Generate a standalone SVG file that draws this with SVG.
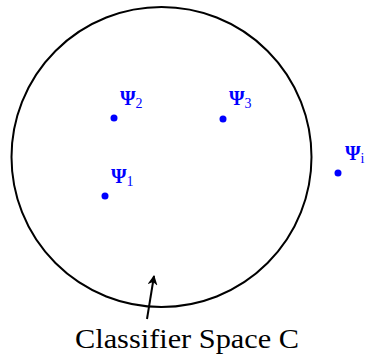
<svg xmlns="http://www.w3.org/2000/svg" width="365" height="358" viewBox="0 0 365 358">
<style>
.pt{fill:#0000ff}
.lab{font-family:"Liberation Serif",serif;font-size:20px;font-weight:bold;fill:#0000ff}
.sub{font-size:14px;font-weight:normal}
.cap{font-family:"Liberation Serif",serif;font-size:27px;fill:#000}
</style>
<defs>
<marker id="ah" viewBox="0 0 10 10" refX="9" refY="5" markerWidth="10" markerHeight="10" markerUnits="userSpaceOnUse" orient="auto">
<path d="M0,0 L10,5 L0,10 L3,5 Z" fill="#000"/>
</marker>
</defs>
<g id="space">
<circle cx="161.5" cy="157" r="150" fill="none" stroke="#000" stroke-width="2"/>
</g>
<g id="psi2"><circle class="pt" cx="114" cy="118" r="3.5"/><text class="lab" x="120" y="105">Ψ<tspan class="sub" dy="3">2</tspan></text></g>
<g id="psi3"><circle class="pt" cx="223" cy="119" r="3.5"/><text class="lab" x="229" y="105">Ψ<tspan class="sub" dy="3">3</tspan></text></g>
<g id="psi1"><circle class="pt" cx="105" cy="196" r="3.5"/><text class="lab" x="111" y="183">Ψ<tspan class="sub" dy="3">1</tspan></text></g>
<g id="psi4"><circle class="pt" cx="338" cy="173" r="3.5"/><text class="lab" x="345" y="160">Ψ<tspan class="sub" dy="3">i</tspan></text></g>
<g id="connectors">
<line x1="147" y1="319" x2="154" y2="276" stroke="#000" stroke-width="2" marker-end="url(#ah)"/>
</g>
<g id="label"><text class="cap" x="75" y="348" textLength="224" lengthAdjust="spacingAndGlyphs">Classifier Space C</text></g>
</svg>
